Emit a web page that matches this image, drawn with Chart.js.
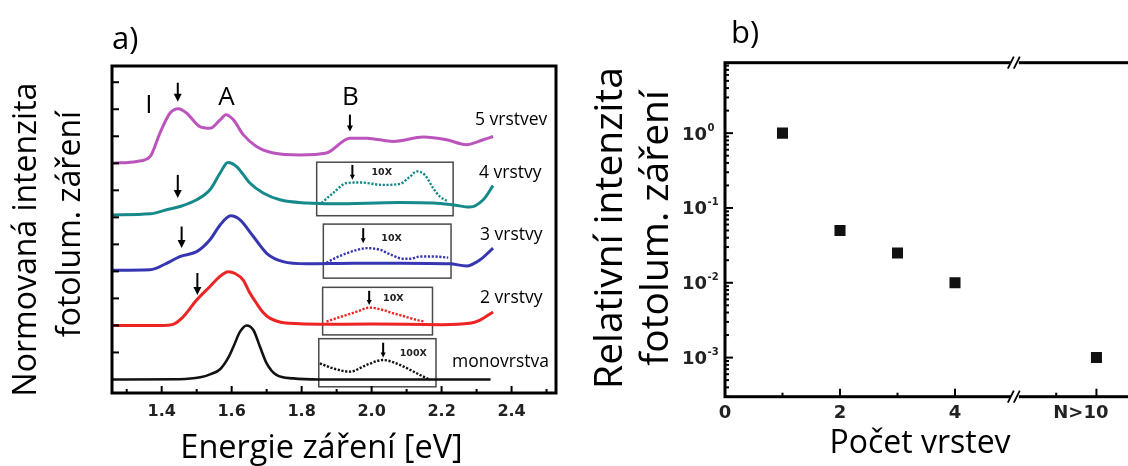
<!DOCTYPE html>
<html>
<head>
<meta charset="utf-8">
<script src="https://cdn.jsdelivr.net/npm/chart.js@4.4.1/dist/chart.umd.min.js"></script>
<style>
  html, body { margin: 0; padding: 0; background: #fff; overflow: hidden; }
  #wrap { position: relative; width: 1128px; height: 466px; overflow: hidden; background: #fff; }
  .panel { position: absolute; top: 0; }
  #panelA { left: 0; }
  #panelB { left: 580px; }
</style>
</head>
<body>
<div id="wrap">
  <div class="panel" id="panelA"><canvas id="plChart" width="600" height="466"></canvas></div>
  <div class="panel" id="panelB"><canvas id="ratioChart" width="620" height="466"></canvas></div>
</div>
<script>
// ---- panel a: PL spectra, [energy eV, offset intensity] ----
const plMono = [[1.26,0],[1.45,0.01],[1.51,0.08],[1.54,0.2],[1.567,0.38],[1.59,0.8],[1.605,1.21],[1.624,1.77],[1.643,2.0],
  [1.662,1.83],[1.681,1.21],[1.70,0.6],[1.728,0.17],[1.776,0.04],[1.85,0],[2.34,0]];
const plBi = [[1.26,2.0],[1.40,2.0],[1.43,2.03],[1.46,2.3],[1.50,2.94],[1.538,3.44],[1.565,3.8],[1.59,3.99],[1.61,3.92],
  [1.633,3.68],[1.65,3.25],[1.671,2.82],[1.69,2.48],[1.709,2.27],[1.74,2.12],[1.767,2.08],[1.85,2.04],[2.0,2.05],
  [2.2,2.03],[2.28,2.08],[2.31,2.2],[2.347,2.5]];
const plTri = [[1.26,4.04],[1.367,4.06],[1.414,4.3],[1.452,4.55],[1.50,4.73],[1.538,5.17],[1.567,5.72],[1.597,6.06],
  [1.624,5.91],[1.662,5.29],[1.70,4.67],[1.747,4.36],[1.814,4.28],[1.95,4.3],[2.081,4.3],[2.224,4.28],[2.271,4.2],
  [2.31,4.43],[2.347,4.86]];
const plTetra = [[1.26,6.09],[1.367,6.13],[1.414,6.28],[1.452,6.4],[1.50,6.65],[1.538,7.02],[1.567,7.64],[1.589,8.03],
  [1.614,7.88],[1.652,7.27],[1.69,6.9],[1.738,6.65],[1.814,6.53],[1.89,6.5],[2.081,6.55],[2.176,6.53],[2.233,6.46],
  [2.281,6.38],[2.319,6.65],[2.347,7.17]];
const plPenta = [[1.26,8.0],[1.329,8.07],[1.367,8.25],[1.395,9.12],[1.424,9.86],[1.448,10.02],[1.471,9.86],[1.509,9.36],
  [1.538,9.30],[1.567,9.61],[1.584,9.80],[1.605,9.61],[1.633,9.06],[1.671,8.62],[1.719,8.38],[1.795,8.31],[1.871,8.38],
  [1.938,8.93],[1.986,8.93],[2.062,8.81],[2.148,8.97],[2.214,8.87],[2.271,8.69],[2.319,8.87],[2.347,8.99]];

// magnified B-exciton region
const insetMono = [[1.852,0.6],[1.89,0.41],[1.938,0.29],[1.986,0.54],[2.033,0.72],[2.081,0.54],[2.129,0.23],[2.167,-0.02]];
const insetBi = [[1.871,2.14],[1.90,2.27],[1.929,2.39],[1.96,2.52],[1.995,2.66],[2.03,2.58],[2.062,2.45],[2.09,2.35],
  [2.11,2.27],[2.13,2.2],[2.152,2.14]];
const insetTri = [[1.871,4.32],[1.90,4.52],[1.929,4.67],[1.96,4.8],[1.986,4.86],[2.024,4.8],[2.055,4.62],[2.088,4.47],
  [2.11,4.47],[2.138,4.55],[2.176,4.55],[2.219,4.51]];
const insetTetra = [[1.857,6.53],[1.89,6.9],[1.929,7.27],[1.967,7.29],[2.033,7.2],[2.081,7.24],[2.11,7.51],[2.129,7.70],
  [2.152,7.57],[2.176,7.08],[2.195,6.77],[2.219,6.59]];

const energyTicks = [1.4, 1.6, 1.8, 2.0, 2.2, 2.4];
const layerNames = ['monovrstva', '2 vrstvy', '3 vrstvy', '4 vrstvy', '5 vrstvev'];
const insetGain = ['100X', '10X', '10X', '10X'];

// ---- panel b: relative PL intensity vs. number of layers ----
const layerPos = [1, 2, 3, 4, 6.46];
const relIntensity = [1.0, 0.05, 0.025, 0.01, 0.001];
const layerTickPos = [0, 2, 4, 6.46];
const layerTickLabels = ['0', '2', '4', 'N>10'];
const decadeExp = [0, -1, -2, -3];

const colMono = '#111111', colBi = '#ee2424', colTri = '#3636b2', colTetra = '#16898b', colPenta = '#bb55bd';

const toXY = arr => arr.map(p => ({ x: p[0], y: p[1] }));

function curve(data, color, width) {
  return { data: toXY(data), borderColor: color, borderWidth: width, pointRadius: 0, showLine: true,
    cubicInterpolationMode: 'monotone', fill: false };
}
function dotted(data, color) {
  return { data: toXY(data), borderColor: color, borderWidth: 2.4, borderDash: [2.2, 1.6], pointRadius: 0,
    showLine: true, cubicInterpolationMode: 'monotone', fill: false };
}

function rotText(ctx, txt, x, y, font) {
  ctx.save();
  ctx.translate(x, y);
  ctx.rotate(-Math.PI / 2);
  ctx.font = font;
  ctx.textAlign = 'center';
  ctx.textBaseline = 'alphabetic';
  ctx.fillText(txt, 0, 0);
  ctx.restore();
}

function downArrow(ctx, px, top, tip, head) {
  ctx.beginPath();
  ctx.moveTo(px, top);
  ctx.lineTo(px, tip - head + 1);
  ctx.stroke();
  ctx.beginPath();
  ctx.moveTo(px - head * 0.5, tip - head);
  ctx.lineTo(px + head * 0.5, tip - head);
  ctx.lineTo(px, tip);
  ctx.closePath();
  ctx.fill();
}

// inset frames [e0, e1, yLow, yHigh]
const insetBoxes = [[1.849, 2.184, -0.27, 1.51], [1.86, 2.174, 1.65, 3.41], [1.862, 2.227, 3.75, 5.75], [1.843, 2.233, 6.06, 8.04]];
// arrows [energy, yTop, yTip, head]
const arrowMarks = [[1.446, 10.98, 10.28, 8], [1.938, 9.8, 9.18, 6], [1.446, 7.57, 6.72, 8], [1.457, 5.66, 4.87, 8],
  [1.502, 3.94, 3.13, 8], [1.945, 7.94, 7.39, 5], [1.976, 5.6, 5.04, 5], [1.993, 3.28, 2.76, 5], [2.033, 1.36, 0.81, 5]];
// gain label anchors [energy, y]
const gainPos = [[2.119, 0.97], [2.062, 3.01], [2.057, 5.23], [2.029, 7.64]];
// layer label anchors [left px, baseline px]
const namePos = [[452, 367], [480, 303], [480, 240], [479, 178], [475, 125]];

const plDecor = {
  id: 'plDecor',
  beforeDatasetsDraw(chart) {
    const { ctx, scales: { x, y } } = chart;
    ctx.save();
    ctx.strokeStyle = '#4a4a4a';
    ctx.lineWidth = 1.5;
    insetBoxes.forEach(([e0, e1, y0, y1]) => {
      const l = x.getPixelForValue(e0), r = x.getPixelForValue(e1);
      const t = y.getPixelForValue(y1), b = y.getPixelForValue(y0);
      ctx.strokeRect(l, t, r - l, b - t);
    });
    ctx.restore();
  },
  afterDraw(chart) {
    const { ctx, chartArea: a, scales: { x, y } } = chart;
    ctx.save();
    ctx.strokeStyle = '#000';
    ctx.fillStyle = '#000';
    // frame
    ctx.lineWidth = 3;
    ctx.strokeRect(a.left, a.top, a.right - a.left, a.bottom - a.top);
    // inward ticks
    ctx.lineWidth = 2;
    for (let v = 1; v <= 11; v++) {
      const py = y.getPixelForValue(v);
      ctx.beginPath(); ctx.moveTo(a.left, py); ctx.lineTo(a.left + 7, py); ctx.stroke();
    }
    for (let k = 13; k <= 25; k++) {
      const px = x.getPixelForValue(k / 10);
      const len = k % 2 === 0 ? 7 : 4;
      ctx.beginPath(); ctx.moveTo(px, a.bottom); ctx.lineTo(px, a.bottom - len); ctx.stroke();
    }
    // arrows
    ctx.lineWidth = 2;
    arrowMarks.forEach(([e, y0, y1, h]) => {
      downArrow(ctx, x.getPixelForValue(e), y.getPixelForValue(y0), y.getPixelForValue(y1), h);
    });
    // peak letters
    ctx.font = '26px "Open Sans"';
    ctx.textAlign = 'center';
    ctx.textBaseline = 'alphabetic';
    ctx.fillText('I', 149, 113);
    ctx.fillText('A', 226.5, 105);
    ctx.fillText('B', 350.5, 105);
    // gain labels
    ctx.font = 'bold 9.5px "DejaVu Sans"';
    ctx.textBaseline = 'middle';
    ctx.fillStyle = '#222';
    gainPos.forEach(([e, v], i) => ctx.fillText(insetGain[i], x.getPixelForValue(e), y.getPixelForValue(v)));
    // layer labels
    ctx.fillStyle = '#000';
    ctx.font = '17.5px "Open Sans"';
    ctx.textAlign = 'left';
    ctx.textBaseline = 'alphabetic';
    namePos.forEach(([lx, by], i) => ctx.fillText(layerNames[i], lx, by));
    // axis titles and panel label
    ctx.font = '32.5px "Open Sans"';
    ctx.textAlign = 'center';
    ctx.fillText('Energie záření [eV]', 321.5, 458);
    rotText(ctx, 'Normovaná intenzita', 36, 239.5, '32px "Open Sans"');
    rotText(ctx, 'fotolum. záření', 80, 224, '32px "Open Sans"');
    ctx.font = '31px "Open Sans"';
    ctx.textAlign = 'left';
    ctx.fillText('a)', 112, 49);
    ctx.restore();
  }
};

const ratioDecor = {
  id: 'ratioDecor',
  afterDraw(chart) {
    const { ctx, chartArea: a, scales: { x, y } } = chart;
    ctx.save();
    ctx.strokeStyle = '#000';
    ctx.fillStyle = '#000';
    ctx.lineWidth = 3;
    ctx.strokeRect(a.left, a.top, a.right - a.left, a.bottom - a.top);
    // inward ticks on the log axis
    ctx.lineWidth = 2;
    for (let k = -4; k <= 0; k++) {
      for (let m = 1; m <= 9; m++) {
        const v = m * Math.pow(10, k);
        if (v < y.min || v > y.max) continue;
        const py = y.getPixelForValue(v);
        const len = m === 1 ? 8 : 4;
        ctx.beginPath(); ctx.moveTo(a.left, py); ctx.lineTo(a.left + len, py); ctx.stroke();
      }
    }
    [[1, 4], [2, 8], [3, 4], [4, 8], [5.76, 4], [6.46, 8]].forEach(([v, len]) => {
      const px = x.getPixelForValue(v);
      ctx.beginPath(); ctx.moveTo(px, a.bottom); ctx.lineTo(px, a.bottom - len); ctx.stroke();
    });
    // axis break marks
    const cx = x.getPixelForValue(5.04);
    [a.top, a.bottom].forEach(by => {
      ctx.fillStyle = '#fff';
      ctx.fillRect(cx - 4, by - 3, 8, 6);
      ctx.lineWidth = 1.8;
      ctx.beginPath();
      ctx.moveTo(cx - 7, by + 6); ctx.lineTo(cx - 1, by - 6);
      ctx.moveTo(cx - 1, by + 6); ctx.lineTo(cx + 5, by - 6);
      ctx.stroke();
    });
    // decade labels
    ctx.fillStyle = '#222';
    decadeExp.forEach(p => {
      const py = y.getPixelForValue(Math.pow(10, p));
      ctx.font = 'bold 18px "DejaVu Sans"';
      ctx.textAlign = 'right';
      ctx.textBaseline = 'alphabetic';
      ctx.fillText('10', 127, py + 6.5);
      ctx.font = 'bold 10px "DejaVu Sans"';
      ctx.textAlign = 'left';
      ctx.fillText(p === 0 ? '0' : '-' + Math.abs(p), 127.5, py - 2.5);
    });
    // last category label sits with its "10" over the tick
    const last = layerTickLabels.length - 1;
    ctx.font = 'bold 18px "DejaVu Sans"';
    ctx.textAlign = 'right';
    ctx.textBaseline = 'middle';
    ctx.fillText(layerTickLabels[last], x.getPixelForValue(layerTickPos[last]) + 12, a.bottom + 17);
    ctx.fillStyle = '#000';
    ctx.textAlign = 'center';
    ctx.textBaseline = 'alphabetic';
    ctx.font = '32px "Open Sans"';
    ctx.fillText('Počet vrstev', 340, 453);
    rotText(ctx, 'Relativní intenzita', 42, 228, '39px "Open Sans"');
    rotText(ctx, 'fotolum. záření', 88, 228, '39px "Open Sans"');
    ctx.font = '31px "Open Sans"';
    ctx.textAlign = 'left';
    ctx.fillText('b)', 151, 43);
    ctx.restore();
  }
};

const baseOpts = {
  responsive: false,
  animation: false,
  events: [],
  plugins: { legend: { display: false }, tooltip: { enabled: false } }
};

new Chart(document.getElementById('plChart'), {
  type: 'scatter',
  data: {
    datasets: [
      curve(plMono, colMono, 2.6), curve(plBi, colBi, 3), curve(plTri, colTri, 3),
      curve(plTetra, colTetra, 3), curve(plPenta, colPenta, 3),
      dotted(insetMono, colMono), dotted(insetBi, colBi), dotted(insetTri, colTri), dotted(insetTetra, colTetra)
    ]
  },
  options: {
    ...baseOpts,
    layout: { padding: { left: 112, right: 44, top: 66, bottom: 0 } },
    scales: {
      x: {
        type: 'linear', min: 1.258, max: 2.527,
        afterFit: s => { s.height = 73; },
        afterBuildTicks: s => { s.ticks = energyTicks.map(v => ({ value: v })); },
        grid: { display: false, drawTicks: false },
        border: { display: false },
        ticks: { callback: v => v.toFixed(1), color: '#222', padding: 9, maxRotation: 0, autoSkip: false,
          font: { family: 'DejaVu Sans', weight: 'bold', size: 16 } }
      },
      y: { type: 'linear', min: -0.5, max: 11.6, display: false }
    }
  },
  plugins: [plDecor]
});

new Chart(document.getElementById('ratioChart'), {
  type: 'scatter',
  data: {
    datasets: [{
      data: layerPos.map((v, i) => ({ x: v, y: relIntensity[i] })),
      pointStyle: 'rect', pointRadius: 7.8, backgroundColor: '#111', borderColor: '#111', borderWidth: 0
    }]
  },
  options: {
    ...baseOpts,
    layout: { padding: { left: 145, right: 20, top: 62.7, bottom: 0 } },
    scales: {
      x: {
        type: 'linear', min: 0, max: 7.913,
        afterFit: s => { s.height = 69.3; },
        afterBuildTicks: s => { s.ticks = layerTickPos.map(v => ({ value: v })); },
        grid: { display: false, drawTicks: false },
        border: { display: false },
        ticks: { callback: (v, i) => (i < layerTickLabels.length - 1 ? layerTickLabels[i] : ''), color: '#222',
          padding: 6, maxRotation: 0, autoSkip: false,
          font: { family: 'DejaVu Sans', weight: 'bold', size: 18 } }
      },
      y: { type: 'logarithmic', min: 3.02e-4, max: 8.74, display: false }
    }
  },
  plugins: [ratioDecor]
});
</script>
</body>
</html>
